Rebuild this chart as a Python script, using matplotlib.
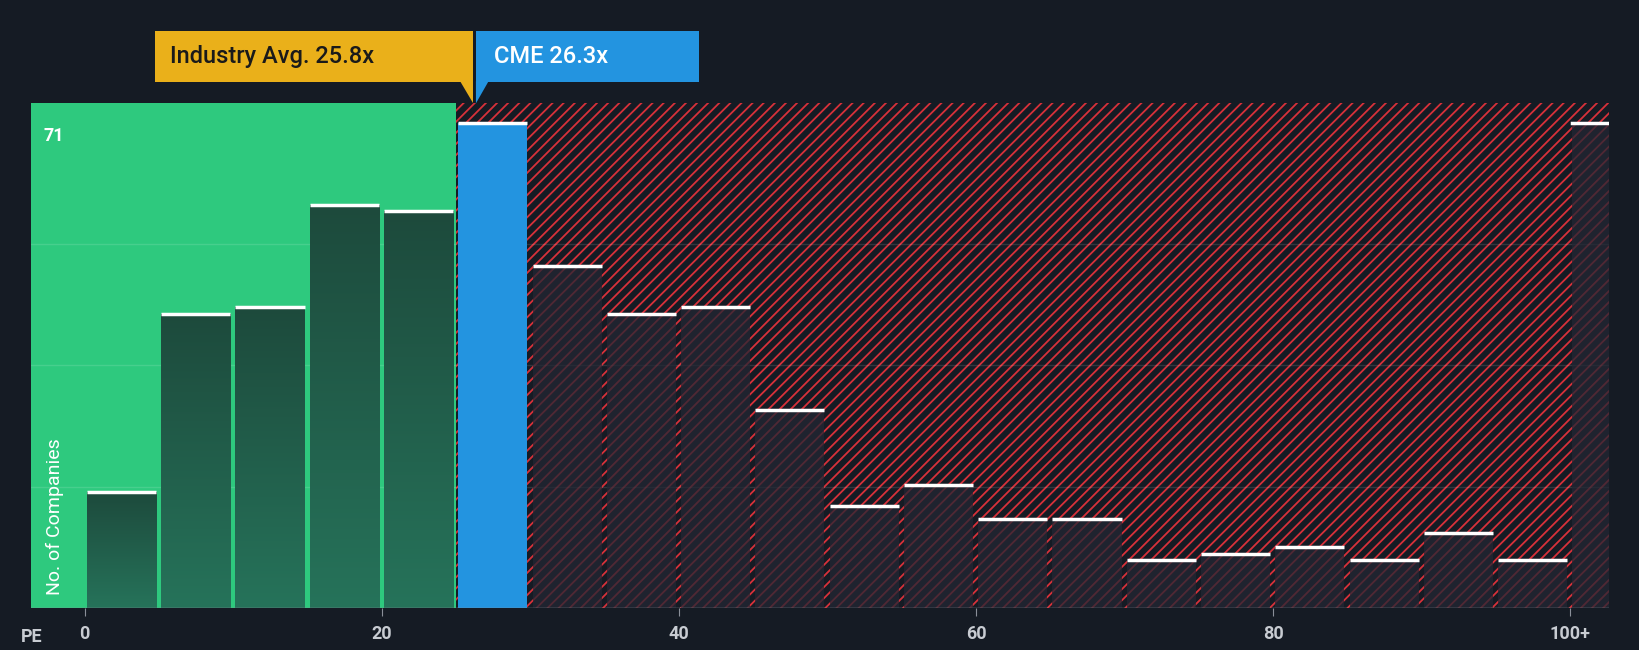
import matplotlib
matplotlib.use("Agg")
import matplotlib.pyplot as plt
from matplotlib.patches import Rectangle, Polygon
import numpy as np

bin_starts = [0,5,10,15,20,25,30,35,40,45,50,55,60,65,70,75,80,85,90,95]
counts = [17,43,44,59,58,71,50,43,44,29,15,18,13,13,7,8,9,7,11,7]
over_count = 71
industry_avg = 25.8
company_pe = 26.3
company = "CME"
tick_vals = [0,20,40,60,80,100]
tick_labels = ["0","20","40","60","80","100+"]
ymax_label = 71

bg = "#151b24"
plt.rcParams['font.family'] = ['Roboto', 'DejaVu Sans']
plt.rcParams['hatch.linewidth'] = 1.3
fig = plt.figure(figsize=(16.4, 6.5), dpi=100, facecolor=bg)
ax = fig.add_axes([0.019, 0.064, 0.962, 0.777])
ax.set_facecolor(bg)
xmin, xmax = -3.6, 102.6
ymax = 73.8
ax.set_xlim(xmin, xmax); ax.set_ylim(0, ymax)
split = 25.0

ax.add_patch(Rectangle((xmin, 0), split - xmin, ymax, facecolor="#2ec97e", edgecolor="none", zorder=0))
ax.add_patch(Rectangle((split, 0), xmax - split, ymax, facecolor=bg, edgecolor="#d7313a", hatch="///", lw=0, zorder=0))

for g in [ymax_label*0.25, ymax_label*0.5, ymax_label*0.75]:
    ax.axhline(g, color="white", alpha=0.12, lw=1, zorder=1)

grad = np.linspace(0, 1, 256).reshape(-1, 1)
from matplotlib.colors import LinearSegmentedColormap
gcm = LinearSegmentedColormap.from_list("g", ["#1d4a3c", "#26735a"])
for s, c in zip(bin_starts, counts):
    x0, w = s + 0.15, 4.65
    if s + 5 <= split:
        b = ax.bar(x0, c, width=w, align="edge", color="none", zorder=2, lw=0)
        im = ax.imshow(grad, cmap=gcm, extent=[x0, x0 + w, 0, c], aspect="auto", zorder=2, origin="upper")
        im.set_clip_path(b.patches[0])
    elif s <= company_pe < s + 5:
        ax.bar(x0, c, width=w, align="edge", color="#2394e0", zorder=2, lw=0)
    else:
        ax.bar(x0, c, width=w, align="edge", color="#232633", alpha=0.75, zorder=2, lw=0)
    ax.plot([x0, x0 + w], [c, c], color="white", lw=2.5, zorder=3, solid_capstyle="butt")
ax.bar(100.15, over_count, width=xmax - 100.15, align="edge", color="#232633", alpha=0.75, zorder=2, lw=0)
ax.plot([100.15, xmax], [over_count, over_count], color="white", lw=2.5, zorder=3)
ax.set_xlim(xmin, xmax); ax.set_ylim(0, ymax)

for sp in ax.spines.values():
    sp.set_visible(False)
ax.axhline(0, color="#8a8f99", lw=1, zorder=4)
ax.set_yticks([])
ax.set_xticks(tick_vals)
ax.set_xticklabels(tick_labels, color="#c8ccd2", fontsize=13, fontweight="bold")
ax.tick_params(axis="x", length=6, color="#8a8f99", pad=6)
ax.text(-2.8, ymax_label - 2, str(ymax_label), color="white", fontsize=13, fontweight="bold", va="center", zorder=5)
ax.text(-2.0, 2, "No. of Companies", rotation=90, color="white", fontsize=14, va="bottom", ha="center", zorder=5)
fig.text(0.013, 0.012, "PE", color="#c8ccd2", fontsize=13, fontweight="bold")

# callout boxes (figure coords)
gold, blue = "#eab01a", "#2394e0"
fig.patches.append(Rectangle((0.0944, 0.874), 0.1939, 0.078, transform=fig.transFigure, fc=gold, ec="none"))
fig.patches.append(Rectangle((0.2902, 0.874), 0.1358, 0.078, transform=fig.transFigure, fc=blue, ec="none"))
fig.text(0.1035, 0.913, f"Industry Avg. {industry_avg}x", color="#1a1a1a", fontsize=17, fontweight="medium", va="center")
fig.text(0.3015, 0.913, f"{company} {company_pe}x", color="white", fontsize=17, fontweight="medium", va="center")
fig.patches.append(Polygon([[0.2806, 0.875], [0.2883, 0.875], [0.2883, 0.841]], closed=True,
                           transform=fig.transFigure, fc=gold, ec="none"))
fig.patches.append(Polygon([[0.2902, 0.875], [0.2979, 0.875], [0.2902, 0.841]], closed=True,
                           transform=fig.transFigure, fc=blue, ec="none"))
fig.savefig("out.png", dpi=100, facecolor=bg)
